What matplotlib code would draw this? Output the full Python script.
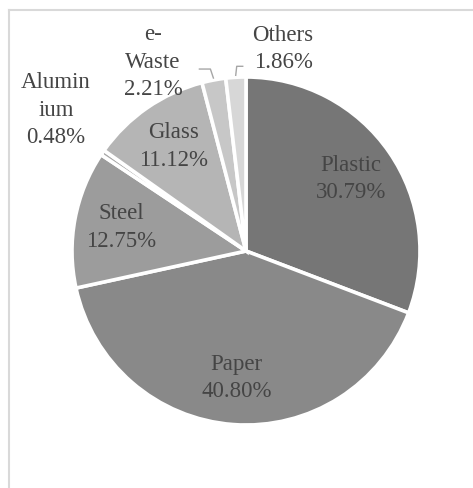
import numpy as np
import matplotlib
matplotlib.use("Agg")
import matplotlib.pyplot as plt

# data
labels = ["Plastic", "Paper", "Steel", "Alumin\nium", "Glass", "e-\nWaste", "Others"]
values = [30.79, 40.80, 12.75, 0.48, 11.12, 2.21, 1.86]
colors = ["#767676", "#898989", "#9c9c9c", "#a8a8a8", "#b5b5b5", "#c7c7c7", "#d7d7d7"]

W, H = 473, 488
fig = plt.figure(figsize=(W / 100, H / 100), dpi=100)
ax = fig.add_axes([0, 0, 1, 1])
ax.set_xlim(0, W)
ax.set_ylim(0, H)
ax.set_aspect("equal")
ax.axis("off")

cx, cy, r = 246, H - 251, 174
wedges, _ = ax.pie(values, colors=colors, startangle=90, counterclock=False,
                   center=(cx, cy), radius=r, normalize=True,
                   wedgeprops=dict(edgecolor="white", linewidth=2.6))
ax.set_xlim(0, W)
ax.set_ylim(0, H)

txt = dict(family="Liberation Serif", fontsize=16.5, color="#454545",
           ha="center", va="center", linespacing=1.38)

def mid(w):
    return np.deg2rad((w.theta1 + w.theta2) / 2)

# inside labels
for i in [0, 1, 2, 4]:
    a = mid(wedges[i])
    ax.text(cx + 0.73 * r * np.cos(a), cy + 0.73 * r * np.sin(a),
            "%s\n%.2f%%" % (labels[i], values[i]), **txt)

# outside labels (offsets from centre)
ax.text(cx - 190, cy + 141, "%s\n%.2f%%" % (labels[3], values[3]), **txt)
ax.text(cx - 93, cy + 189, "%s\n%.2f%%" % (labels[5], values[5]), **txt)
ax.text(cx + 37, cy + 202, "%s\n%.2f%%" % (labels[6], values[6]), **txt)

# leader lines
lc = dict(color="#a6a6a6", lw=1.0)
for i, dx in [(5, -11), (6, 6)]:
    a = mid(wedges[i])
    x0, y0 = cx + (r + 2) * np.cos(a), cy + (r + 2) * np.sin(a)
    x1, y1 = x0 + (-3 if dx < 0 else 1), y0 + 9
    ax.plot([x0, x1, x1 + dx], [y0, y1, y1], **lc)

# chart border
ax.plot([9, 9], [0, H - 10], color="#d9d9d9", lw=1.5)
ax.plot([9, W], [H - 10, H - 10], color="#d9d9d9", lw=1.5)

fig.savefig("out.png", dpi=100)
